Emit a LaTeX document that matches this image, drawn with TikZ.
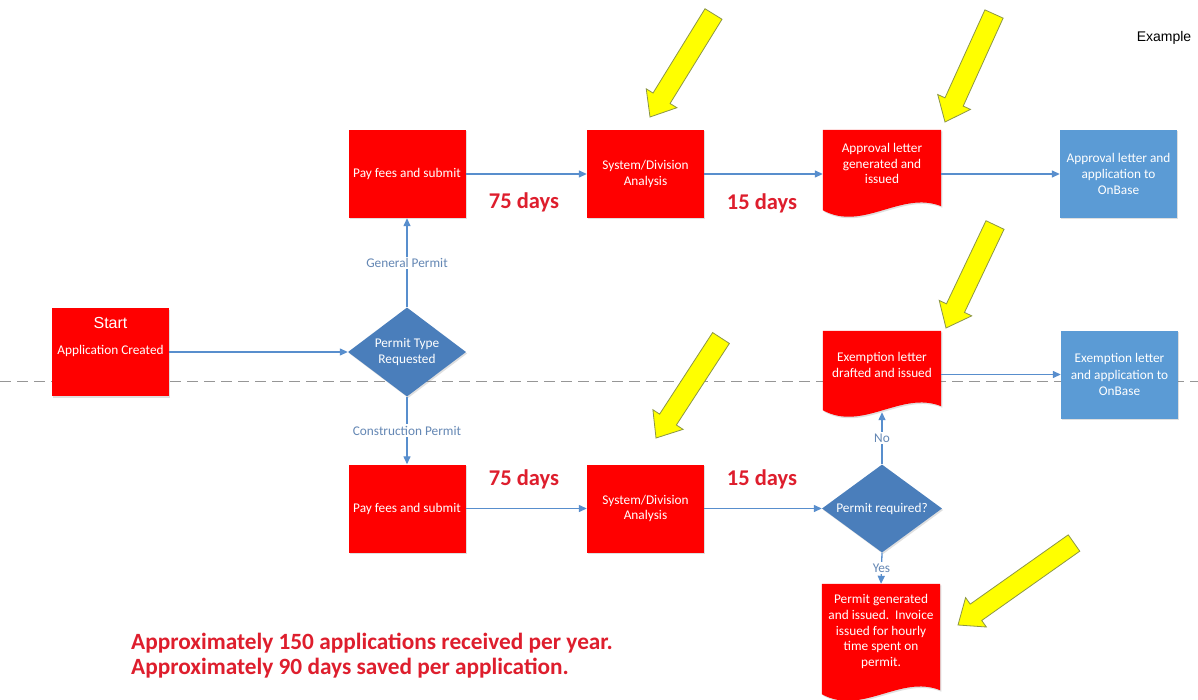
\documentclass[tikz,border=0pt]{standalone}
\usepackage{fontspec}
\setmainfont{Carlito}
\newfontfamily\arialfont{Liberation Sans}
\usetikzlibrary{arrows.meta,calc,shapes.geometric,shadows}
\definecolor{boxred}{RGB}{255,0,0}
\definecolor{dblue}{RGB}{74,126,187}
\definecolor{lblue}{RGB}{91,155,213}
\definecolor{lineblue}{RGB}{88,142,205}
\definecolor{lblcol}{RGB}{100,135,180}
\definecolor{daysred}{RGB}{222,30,45}
\definecolor{yfill}{RGB}{255,255,0}
\definecolor{yedge}{RGB}{140,150,70}
\definecolor{dashgray}{RGB}{150,150,150}

% yellow block arrow: #1 tail centre, #2 tip
\newcommand\yarrow[2]{%
  \coordinate (yt) at (#1);
  \coordinate (yp) at (#2);
  \coordinate (yb) at ($(yp)!22pt!(yt)$);
  \filldraw[yarrowstyle] (yp) -- ($(yb)!18pt!90:(yt)$) -- ($(yb)!10pt!90:(yt)$)
    -- ($(yt)!10pt!-90:(yp)$) -- ($(yt)!10pt!90:(yp)$)
    -- ($(yb)!10pt!-90:(yt)$) -- ($(yb)!18pt!-90:(yt)$) -- cycle;}

% document shape with wavy bottom, drawn over the bounds of node #1
\newcommand\docfill[1]{%
  \fill[boxred, shad] (#1.north west) -- (#1.north east) -- ([yshift=12pt]#1.south east)
    .. controls ([xshift=-40pt,yshift=28pt]#1.south east) and ([xshift=40pt,yshift=-14pt]#1.south west)
    .. ([yshift=8pt]#1.south west) -- cycle;}

\begin{document}
\begin{tikzpicture}[x=1pt,y=-1pt,
  shad/.style={drop shadow={shadow xshift=1.2pt,shadow yshift=-1.5pt,opacity=0.25}},
  boxfont/.style={font=\fontsize{13.3}{15.8}\selectfont},
  redbox/.style={rectangle, fill=boxred, shad, minimum width=117pt, minimum height=88pt,
    inner sep=2pt, text=white, align=center, boxfont},
  bluebox/.style={rectangle, fill=lblue, shad, minimum width=117pt, minimum height=88pt,
    inner sep=2pt, text=white, align=center, font=\fontsize{13.3}{16.3}\selectfont},
  docnode/.style={rectangle, minimum width=118pt, inner sep=0pt},
  boxtxt/.style={text=white, align=center, inner sep=0pt, boxfont},
  decision/.style={diamond, fill=dblue, shad, shape aspect=1.4, inner sep=0pt,
    text=white, align=center, boxfont},
  conn/.style={draw=lineblue, line width=1.3pt, -{Triangle[length=8pt,width=7pt]}},
  elabel/.style={fill=white, text=lblcol, inner sep=1.5pt, boxfont},
  days/.style={text=daysred, font=\bfseries\fontsize{22.5}{25}\selectfont},
  yarrowstyle/.style={fill=yfill, draw=yedge, line width=0.8pt, line join=miter}
]
\useasboundingbox (0,0) rectangle (1198,700);
\fill[white] (0,0) rectangle (1198,700);

% swimlane divider
\draw[dashgray, line width=1pt, dash pattern=on 11pt off 6pt] (0,381) -- (1198,381);

% start
\node[redbox] (start) at (110.5,352) {};
\node[text=white, font=\arialfont\fontsize{16}{19}\selectfont, inner sep=0pt] (startt) at (110.5,323) {Start};
\node[boxtxt] (startt2) at (110.5,351) {Application Created};

% decision 1
\node[decision, minimum width=118pt, minimum height=89pt] (ptype) at (407,352) {Permit Type\\Requested};

% upper row
\node[redbox] (pay1) at (407,174) {Pay fees and submit};
\node[redbox] (sys1) at (645.5,174) {System/Division\\Analysis};
\node[docnode, minimum height=88pt] (appr) at (882,174) {};
\docfill{appr}
\node[boxtxt] (apprt) at (882,163.5) {Approval letter\\generated and\\issued};
\node[bluebox] (box1) at (1118.5,174) {Approval letter and\\application to\\OnBase};

% lower row
\node[redbox] (pay2) at (407,508.5) {Pay fees and submit};
\node[redbox] (sys2) at (645.5,508.5) {System/Division\\Analysis};
\node[decision, minimum width=120pt, minimum height=88pt] (preq) at (882,508.5) {Permit required?};
\node[docnode, minimum height=87pt] (exem) at (882,374.5) {};
\docfill{exem}
\node[boxtxt] (exemt) at (882,365) {Exemption letter\\drafted and issued};
\node[bluebox] (box2) at (1119.5,374.5) {Exemption letter\\and application to\\OnBase};
\node[docnode, minimum height=118pt] (permit) at (881,643) {};
\docfill{permit}
\node[boxtxt, font=\fontsize{13.3}{15.8}\selectfont] (permitt) at (881,631.5) {Permit generated\\and issued.\ \ Invoice\\issued for hourly\\time spent on\\permit.};

% connectors
\draw[conn] (start) -- (ptype);
\draw[conn] (ptype.north) -- node[elabel] (lgen) {General Permit} (pay1.south);
\draw[conn] (ptype.south) -- node[elabel] (lcon) {Construction Permit} (pay2.north);
\draw[conn] (pay1) -- (sys1);
\draw[conn] (sys1) -- (appr);
\draw[conn] (appr) -- (box1);
\draw[conn] (pay2) -- (sys2);
\draw[conn] (sys2) -- (preq);
\draw[conn] (preq.north) -- node[elabel] (lno) {No} ([yshift=6pt]exem.south);
\draw[conn] (exem) -- (box2);
\draw[conn] (preq.south) -- node[elabel] (lyes) {Yes} (permit.north);

% durations
\node[days] (d1) at (524,202) {75 days};
\node[days] (d2) at (762,203) {15 days};
\node[days] (d3) at (524,479) {75 days};
\node[days] (d4) at (762,479) {15 days};

% notes
\node[anchor=west, align=left, text=daysred, inner sep=0pt,
  font=\bfseries\fontsize{23.3}{25}\selectfont] (notes) at (131,655.5)
  {Approximately 150 applications received per year.\\Approximately 90 days saved per application.};
\node[font=\arialfont\fontsize{14}{17}\selectfont, inner sep=0pt] (example) at (1164,38) {Example};

% yellow callout arrows
\yarrow{713.5,14}{650,117}
\yarrow{994,14}{945,122}
\yarrow{995,225}{946,328}
\yarrow{721,338}{656,438}
\yarrow{1074,543}{958,625}
\end{tikzpicture}
\end{document}
